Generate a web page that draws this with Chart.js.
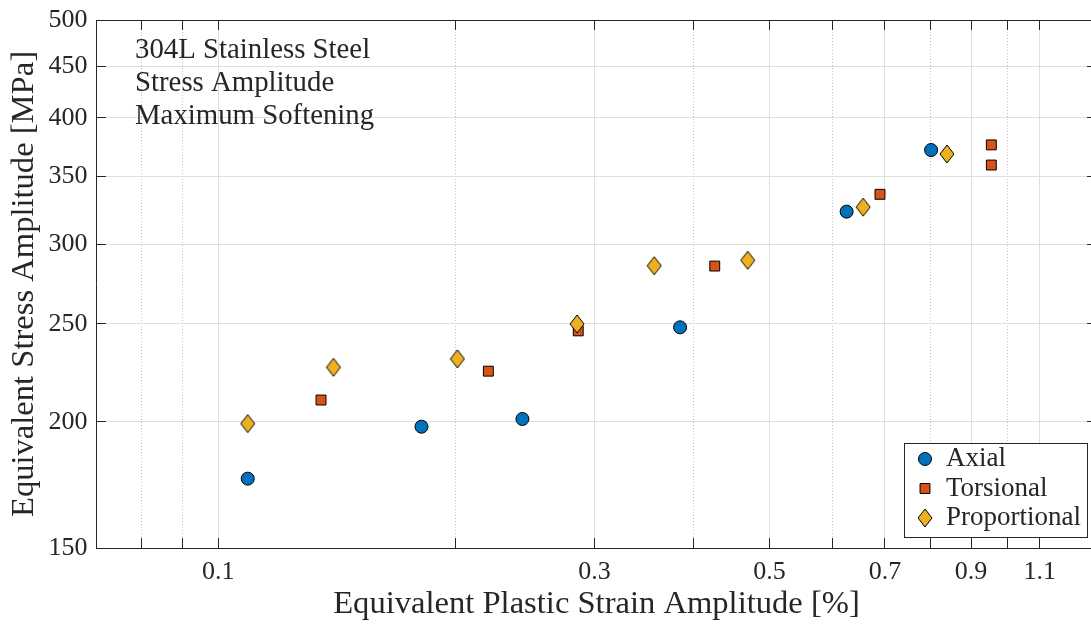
<!DOCTYPE html>
<html>
<head>
<meta charset="utf-8">
<title>304L stress amplitude</title>
<script src="https://cdn.jsdelivr.net/npm/chart.js"></script>
<style>
  html, body { margin: 0; padding: 0; background: #fff; overflow: hidden; }
  #wrap { width: 1100px; height: 625px; }
</style>
</head>
<body>
<div id="wrap"><canvas id="softChart" width="1100" height="625"></canvas></div>
<script>
// values (strain in %, stress in MPa)
const axialX = [0.109, 0.181, 0.243, 0.385, 0.626, 0.801];
const axialY = [175.7, 197.8, 201.3, 248.1, 323.0, 371.7];
const torsX = [0.135, 0.220, 0.286, 0.426, 0.690, 0.955, 0.955];
const torsY = [210.2, 224.5, 246.1, 285.3, 336.0, 376.1, 359.2];
const propX = [0.109, 0.140, 0.201, 0.285, 0.357, 0.469, 0.657, 0.839];
const propY = [199.2, 226.5, 230.9, 250.0, 285.5, 289.1, 326.3, 368.4];

const seriesNames = ['Axial', 'Torsional', 'Proportional'];
const yTicks = [150, 200, 250, 300, 350, 400, 450, 500];
const xMajor = [0.1, 0.3, 0.5, 0.7, 0.9, 1.1];
const xMinor = [0.08, 0.09, 0.2, 0.4, 0.6, 0.8, 1.0];
const noteLines = ['304L Stainless Steel', 'Stress Amplitude', 'Maximum Softening'];

const ink = '#262626';
const gridMajor = '#dfdfdf';
const gridMinor = '#c4c4c4';

Chart.defaults.font.family = '"Liberation Serif", serif';
Chart.defaults.color = ink;

function pts(xs, ys) {
  return xs.map((x, i) => ({ x: x, y: ys[i] }));
}

// matlab style diamond is taller than wide
function diamondMarker() {
  const c = document.createElement('canvas');
  c.width = 16; c.height = 20;
  const g = c.getContext('2d');
  g.beginPath();
  g.moveTo(8, 1); g.lineTo(15, 10); g.lineTo(8, 19); g.lineTo(1, 10);
  g.closePath();
  g.fillStyle = '#EDB120'; g.fill();
  g.lineWidth = 1; g.strokeStyle = '#000'; g.stroke();
  return c;
}

const xTickList = () => xMajor.map(v => ({ value: v, major: true }))
  .concat(xMinor.map(v => ({ value: v, major: false })))
  .sort((a, b) => a.value - b.value);
const yTickList = () => yTicks.map(v => ({ value: v, major: true }));

// fixed box sizes so the axes land where the matlab axes were
const fixBox = (w, h) => s => {
  if (w !== null) s.width = w;
  if (h !== null) s.height = h;
  s.paddingTop = 0; s.paddingBottom = 0;
  s.paddingLeft = 0; s.paddingRight = 0;
};

const overlay = {
  id: 'overlay',
  afterDatasetsDraw(chart) {
    const { ctx, chartArea: a } = chart;
    ctx.save();
    ctx.fillStyle = ink;
    ctx.textBaseline = 'middle';
    ctx.textAlign = 'left';
    ctx.font = '28.8px "Liberation Serif"';
    noteLines.forEach((t, i) => ctx.fillText(t, a.left + 39, a.top + 30 + i * 33));

    // legend box, lower right inside the axes
    const w = 183, h = 94;
    const x0 = a.right - 10 - w, y0 = a.bottom - 11 - h;
    ctx.fillStyle = '#fff';
    ctx.fillRect(x0, y0, w, h);
    ctx.strokeStyle = ink;
    ctx.lineWidth = 1;
    ctx.strokeRect(x0 + 0.5, y0 + 0.5, w, h);
    ctx.font = '27px "Liberation Serif"';
    chart.data.datasets.forEach((ds, i) => {
      const cy = y0 + 16 + i * 29.5;
      ctx.fillStyle = ds.backgroundColor;
      ctx.strokeStyle = ds.borderColor;
      ctx.lineWidth = 1;
      Chart.helpers.drawPoint(ctx, { pointStyle: ds.pointStyle, radius: ds.pointRadius, rotation: 0, borderWidth: 1 }, x0 + 21, cy);
      ctx.fillStyle = ink;
      ctx.fillText(ds.label, x0 + 42, cy);
    });
    ctx.restore();
  }
};

new Chart(document.getElementById('softChart'), {
  type: 'scatter',
  data: {
    datasets: [
      {
        label: seriesNames[0],
        data: pts(axialX, axialY),
        pointStyle: 'circle',
        pointRadius: 6.5,
        backgroundColor: '#0072BD',
        borderColor: '#000',
        borderWidth: 1,
        order: 3
      },
      {
        label: seriesNames[1],
        data: pts(torsX, torsY),
        pointStyle: 'rect',
        pointRadius: 7,
        backgroundColor: '#D95319',
        borderColor: '#000',
        borderWidth: 1,
        order: 2
      },
      {
        label: seriesNames[2],
        data: pts(propX, propY),
        pointStyle: diamondMarker(),
        pointRadius: 9,
        backgroundColor: '#EDB120',
        borderColor: '#000',
        borderWidth: 1,
        order: 1
      }
    ]
  },
  options: {
    responsive: false,
    animation: false,
    events: [],
    layout: { padding: 0, autoPadding: false },
    plugins: {
      legend: { display: false },
      tooltip: { enabled: false }
    },
    scales: {
      x: {
        type: 'logarithmic',
        position: 'bottom',
        min: 0.07,
        max: 1.3,
        afterBuildTicks: s => { s.ticks = xTickList(); },
        afterFit: fixBox(null, 77),
        ticks: {
          autoSkip: false,
          maxRotation: 0,
          padding: 19,
          font: { size: 26 },
          callback: v => xMajor.includes(v) ? String(v) : ''
        },
        grid: {
          color: c => (c.tick && !c.tick.major) ? gridMinor : gridMajor,
          tickLength: -10,
          tickColor: ink
        },
        border: {
          color: ink,
          width: 1,
          dash: c => (c.tick && !c.tick.major) ? [1, 2] : []
        },
        title: {
          display: true,
          text: 'Equivalent Plastic Strain Amplitude [%]',
          font: { size: 32.6 },
          padding: { top: 0, bottom: 1 }
        }
      },
      xTop: {
        type: 'logarithmic',
        position: 'top',
        min: 0.07,
        max: 1.3,
        afterBuildTicks: s => { s.ticks = xTickList(); },
        afterFit: fixBox(null, 20),
        ticks: { display: false, autoSkip: false },
        grid: { drawOnChartArea: false, tickLength: -10, tickColor: ink },
        border: { color: ink, width: 1 }
      },
      y: {
        type: 'logarithmic',
        position: 'left',
        min: 150,
        max: 500,
        afterBuildTicks: s => { s.ticks = yTickList(); },
        afterFit: fixBox(96, null),
        ticks: {
          autoSkip: false,
          padding: 18.5,
          font: { size: 26 },
          callback: v => String(v)
        },
        grid: { color: gridMajor, tickLength: -10, tickColor: ink },
        border: { color: ink, width: 1 },
        title: {
          display: true,
          text: 'Equivalent Stress Amplitude [MPa]',
          font: { size: 32.6 },
          padding: { top: 5, bottom: 0 }
        }
      },
      yRight: {
        type: 'logarithmic',
        position: 'right',
        min: 150,
        max: 500,
        afterBuildTicks: s => { s.ticks = yTickList(); },
        afterFit: fixBox(3, null),
        ticks: { display: false, autoSkip: false },
        grid: { drawOnChartArea: false, tickLength: -10, tickColor: ink },
        border: { color: ink, width: 1 }
      }
    }
  },
  plugins: [overlay]
});
</script>
</body>
</html>
